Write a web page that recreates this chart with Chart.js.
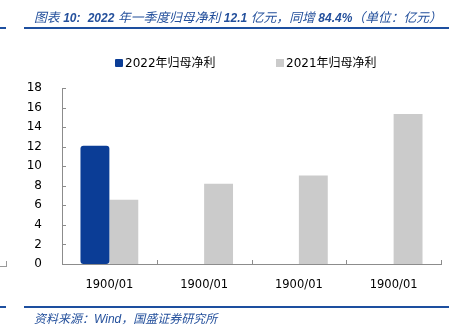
<!DOCTYPE html>
<html>
<head>
<meta charset="utf-8">
<script src="https://cdn.jsdelivr.net/npm/chart.js@4/dist/chart.umd.min.js"></script>
<style>
  html, body { margin: 0; padding: 0; background: #fff; }
  body { width: 449px; height: 327px; position: relative; overflow: hidden; font-family: "DejaVu Sans", "Noto Sans CJK SC", sans-serif; }
  #chart-box { position: absolute; left: 0; top: 0; width: 449px; height: 327px; }
  .rule { position: absolute; height: 2px; background: #1d4f9f; }
  .caption { position: absolute; left: 34px; color: #24509c; font-style: italic; font-family: "Liberation Sans", "Noto Sans CJK SC", sans-serif; white-space: nowrap; }
  .caption b { font-family: "Liberation Sans", sans-serif; font-size: 12px; font-weight: 600; }
  #title { top: 7px; font-size: 12.8px; }
  #source { top: 309px; font-size: 12px; }
  .legend { position: absolute; top: 53px; font-size: 12px; color: #000; white-space: nowrap; font-family: "DejaVu Sans", "Noto Sans CJK SC", sans-serif; }
  .legend i { display: inline-block; width: 8px; height: 8px; margin-right: 2px; }
  #corner { position: absolute; left: 0; top: 261px; width: 6px; height: 5px; border-right: 1px solid #999; border-bottom: 1px solid #999; }
</style>
</head>
<body>
<div id="chart-box"><canvas id="profit-chart" width="449" height="327"></canvas></div>

<div class="rule" style="left:0;width:6px;top:27px"></div>
<div class="rule" style="left:24px;right:0;top:27px"></div>
<div class="rule" style="left:0;width:6px;top:306px"></div>
<div class="rule" style="left:24px;right:0;top:306px"></div>
<div class="caption" id="title">图表 <b>10:</b>&nbsp; <b>2022</b> 年一季度归母净利 <b>12.1</b> 亿元，同增 <b>84.4%</b>（单位：亿元）</div>
<div class="caption" id="source">资料来源：<b style="font-weight:normal">Wind</b>，国盛证券研究所</div>
<div class="legend" style="left:115px"><i style="background:#0b3d96;border-radius:1px"></i>2022年归母净利</div>
<div class="legend" style="left:276px"><i style="background:#cbcbcb"></i>2021年归母净利</div>
<div id="corner"></div>

<script>
// quarters (the source export shows every date as 1900/01)
const quarterLabels = ['1900/01', '1900/01', '1900/01', '1900/01'];
const profit2022 = [12.1, null, null, null];
const profit2021 = [6.56, 8.2, 9.05, 15.35];
const yTicks = [0, 2, 4, 6, 8, 10, 12, 14, 16, 18];

const axisGray = '#8c8c8c';

// short tick marks drawn inward from both axes
const innerTicks = {
  id: 'innerTicks',
  afterDatasetsDraw(chart) {
    const ctx = chart.ctx;
    const x = chart.scales.x, y = chart.scales.y;
    const area = chart.chartArea;
    ctx.save();
    ctx.strokeStyle = axisGray;
    ctx.lineWidth = 1;
    ctx.beginPath();
    yTicks.forEach(function(v){
      const py = Math.round(y.getPixelForValue(v)) + 0.5;
      ctx.moveTo(area.left, py);
      ctx.lineTo(area.left + 4, py);
    });
    for (let i = 0; i <= quarterLabels.length; i++) {
      const px = Math.round(x.getPixelForValue(i - 0.5)) + 0.5;
      ctx.moveTo(px, area.bottom);
      ctx.lineTo(px, area.bottom - 4);
    }
    ctx.stroke();
    ctx.restore();
  }
};

new Chart(document.getElementById('profit-chart'), {
  type: 'bar',
  data: {
    labels: quarterLabels,
    datasets: [
      {
        label: '2022年归母净利',
        data: profit2022,
        backgroundColor: '#0b3d96',
        borderRadius: 3,
        borderSkipped: false
      },
      {
        label: '2021年归母净利',
        data: profit2021,
        backgroundColor: '#cbcbcb'
      }
    ]
  },
  options: {
    responsive: false,
    animation: false,
    events: [],
    layout: { padding: { top: 88, right: 8, bottom: 0, left: 0 } },
    datasets: {
      bar: { categoryPercentage: 0.61, barPercentage: 1.0 }
    },
    scales: {
      x: {
        offset: true,
        grid: { display: false },
        border: { display: true, color: axisGray, width: 1 },
        ticks: { color: '#000', padding: 6, font: { family: 'DejaVu Sans', size: 11.5 }, maxRotation: 0 },
        afterFit: function(scale){ scale.height = 63; }
      },
      y: {
        min: 0,
        max: 18,
        grid: { display: false },
        border: { display: true, color: axisGray, width: 1 },
        ticks: { stepSize: 2, color: '#000', padding: 12, font: { family: 'DejaVu Sans', size: 12 } },
        afterFit: function(scale){ scale.width = 62; }
      }
    },
    plugins: {
      legend: { display: false },
      tooltip: { enabled: false }
    }
  },
  plugins: [innerTicks]
});
</script>
</body>
</html>
